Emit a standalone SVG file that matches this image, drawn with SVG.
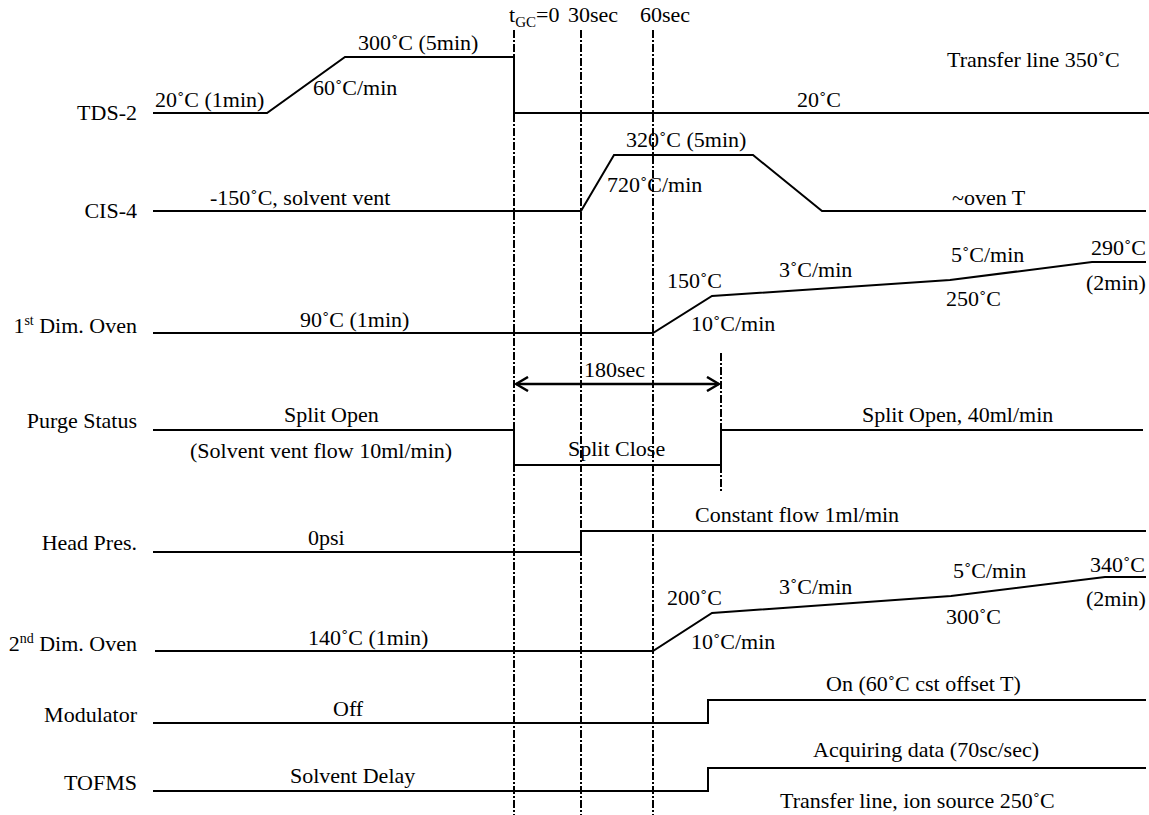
<svg xmlns="http://www.w3.org/2000/svg" width="1149" height="815" viewBox="0 0 1149 815">
<style>
text{font-family:"Liberation Serif","Times New Roman",serif;font-size:22px;fill:#000}
.lbl{text-anchor:end}
.sig{fill:none;stroke:#000;stroke-width:2;stroke-linejoin:miter}
.mark{fill:none;stroke:#000;stroke-width:2;stroke-dasharray:8,2,2,2}
</style>
<defs>
<marker id="chev" viewBox="0 0 14 16" refX="13" refY="8" markerWidth="14" markerHeight="16" markerUnits="userSpaceOnUse" orient="auto-start-reverse">
<polyline points="1,1 13,8 1,15" fill="none" stroke="#000" stroke-width="2.5"/>
</marker>
</defs>
<rect width="1149" height="815" fill="#fff"/>
<g id="time-header">
<text x="509" y="22">t<tspan font-size="15" dy="5">GC</tspan><tspan dy="-5">=0</tspan></text>
<text x="568" y="22">30sec</text>
<text x="640" y="22">60sec</text>
</g>
<g id="connectors">
<line class="mark" x1="514" y1="30" x2="514" y2="815"/>
<line class="mark" x1="581" y1="30" x2="581" y2="815"/>
<line class="mark" x1="653" y1="30" x2="653" y2="815"/>
<line class="mark" x1="721" y1="353" x2="721" y2="492"/>
<line x1="516" y1="384" x2="719" y2="384" stroke="#000" stroke-width="2.5" marker-start="url(#chev)" marker-end="url(#chev)"/>
<text x="584" y="377">180sec</text>
</g>
<g id="tds2">
<text class="lbl" x="137" y="120">TDS-2</text>
<polyline class="sig" points="153,113 267,113 345,57 514,57 514,113 1149,113"/>
<text x="155" y="107">20˚C (1min)</text>
<text x="358" y="50">300˚C (5min)</text>
<text x="313" y="95">60˚C/min</text>
<text x="947" y="67">Transfer line 350˚C</text>
<text x="797" y="107">20˚C</text>
</g>
<g id="cis4">
<text class="lbl" x="137" y="218">CIS-4</text>
<polyline class="sig" points="153,211 581,211 614,155 753,155 822,211 1146,211"/>
<text x="210" y="205">-150˚C, solvent vent</text>
<text x="626" y="147">320˚C (5min)</text>
<text x="607" y="192">720˚C/min</text>
<text x="952" y="205">~oven T</text>
</g>
<g id="dim1-oven">
<text class="lbl" x="137" y="333">1<tspan font-size="14" dy="-8">st</tspan><tspan dy="8"> Dim. Oven</tspan></text>
<polyline class="sig" points="153,333 653,333 712,296 950,280 1092,262 1146,262"/>
<text x="300" y="327">90˚C (1min)</text>
<text x="667" y="288">150˚C</text>
<text x="691" y="331">10˚C/min</text>
<text x="779" y="277">3˚C/min</text>
<text x="951" y="262">5˚C/min</text>
<text x="946" y="306">250˚C</text>
<text x="1091" y="255">290˚C</text>
<text x="1086" y="290">(2min)</text>
</g>
<g id="purge-status">
<text class="lbl" x="137" y="428">Purge Status</text>
<polyline class="sig" points="153,430 514,430 514,465 721,465 721,430 1143,430"/>
<text x="284" y="422">Split Open</text>
<text x="190" y="458">(Solvent vent flow 10ml/min)</text>
<text x="568" y="456">Split Close</text>
<text x="862" y="422">Split Open, 40ml/min</text>
</g>
<g id="head-pres">
<text class="lbl" x="137" y="550">Head Pres.</text>
<polyline class="sig" points="153,552 581,552 581,531 1146,531"/>
<text x="308" y="545">0psi</text>
<text x="695" y="522">Constant flow 1ml/min</text>
</g>
<g id="dim2-oven">
<text class="lbl" x="137" y="651">2<tspan font-size="14" dy="-8">nd</tspan><tspan dy="8"> Dim. Oven</tspan></text>
<polyline class="sig" points="155,651 653,651 712,613 951,596 1105,577 1146,577"/>
<text x="308" y="645">140˚C (1min)</text>
<text x="667" y="605">200˚C</text>
<text x="691" y="649">10˚C/min</text>
<text x="779" y="594">3˚C/min</text>
<text x="953" y="578">5˚C/min</text>
<text x="946" y="624">300˚C</text>
<text x="1090" y="572">340˚C</text>
<text x="1086" y="606">(2min)</text>
</g>
<g id="modulator">
<text class="lbl" x="137" y="722">Modulator</text>
<polyline class="sig" points="153,723 708,723 708,700 1146,700"/>
<text x="333" y="716">Off</text>
<text x="826" y="691">On (60˚C cst offset T)</text>
</g>
<g id="tofms">
<text class="lbl" x="137" y="790">TOFMS</text>
<polyline class="sig" points="153,791 708,791 708,768 1146,768"/>
<text x="290" y="783">Solvent Delay</text>
<text x="813" y="757">Acquiring data (70sc/sec)</text>
<text x="780" y="808">Transfer line, ion source 250˚C</text>
</g>
</svg>
